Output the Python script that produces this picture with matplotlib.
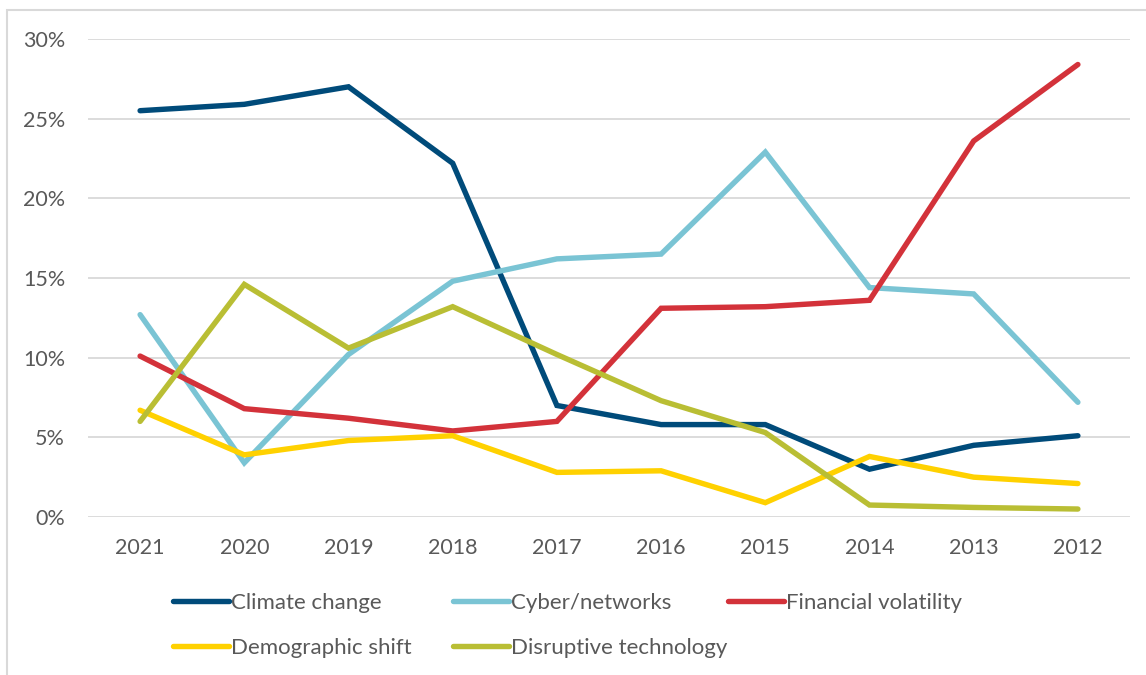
import matplotlib
matplotlib.use("Agg")
import matplotlib.pyplot as plt
from matplotlib.patches import Rectangle
from matplotlib.ticker import FuncFormatter, MultipleLocator

years = ["2021", "2020", "2019", "2018", "2017", "2016", "2015", "2014", "2013", "2012"]
climate = [25.5, 25.9, 27.0, 22.2, 7.0, 5.8, 5.8, 3.0, 4.5, 5.1]
cyber = [12.7, 3.4, 10.2, 14.8, 16.2, 16.5, 22.9, 14.4, 14.0, 7.2]
financial = [10.1, 6.8, 6.2, 5.4, 6.0, 13.1, 13.2, 13.6, 23.6, 28.4]
demographic = [6.7, 3.9, 4.8, 5.1, 2.8, 2.9, 0.9, 3.8, 2.5, 2.1]
disruptive = [6.0, 14.6, 10.6, 13.2, 10.2, 7.3, 5.3, 0.75, 0.6, 0.5]

series = [
    ("Climate change", climate, "#004B7A"),
    ("Cyber/networks", cyber, "#7AC4D4"),
    ("Financial volatility", financial, "#D3323A"),
    ("Demographic shift", demographic, "#FFD100"),
    ("Disruptive technology", disruptive, "#B9BE34"),
]

plt.rcParams["font.family"] = ["Lato", "DejaVu Sans"]
text_color = "#595959"

fig = plt.figure(figsize=(11.46, 6.75), dpi=100)
ax = fig.add_axes([88 / 1146, 1 - 517 / 675, (1130 - 88) / 1146, (517 - 39) / 675])

x = list(range(len(years)))
handles = []
for name, vals, col in series:
    h, = ax.plot(x, [v / 100 for v in vals], color=col, lw=3.9, label=name,
                 solid_joinstyle="miter", solid_capstyle="round", zorder=3)
    handles.append(h)

ax.set_xlim(-0.5, len(years) - 0.5)
ax.set_ylim(0, 0.30)
ax.yaxis.set_major_locator(MultipleLocator(0.05))
ax.yaxis.set_major_formatter(FuncFormatter(lambda v, p: f"{v*100:.0f}%"))
ax.set_xticks(x)
ax.set_xticklabels(years)
ax.grid(axis="y", color="#D9D9D9", lw=1.3, zorder=0)
ax.set_axisbelow(True)
for s in ax.spines.values():
    s.set_visible(False)
ax.tick_params(axis="both", length=0, labelsize=15.5, colors=text_color)
ax.tick_params(axis="y", pad=16.5)
ax.tick_params(axis="x", pad=15)

# legend: three columns placed at the reference's fixed column positions
col_x = [173, 453, 728]
columns = [[0, 3], [1, 4], [2]]
for cx, idxs in zip(col_x, columns):
    leg = fig.legend(handles=[handles[i] for i in idxs], loc="upper left", ncol=1,
                     bbox_to_anchor=(cx / 1146, 1 - 593 / 675),
                     frameon=False, fontsize=16, labelcolor=text_color,
                     handlelength=2.5, handletextpad=0.1,
                     labelspacing=1.12, borderaxespad=0, borderpad=0)

fig.patches.append(Rectangle((7 / 1146, -0.1), 1.2, 1 - 10 / 675 + 0.1,
                             transform=fig.transFigure, fill=False,
                             edgecolor="#D9D9D9", lw=1.5, zorder=0))

fig.savefig("out.png", dpi=100)
